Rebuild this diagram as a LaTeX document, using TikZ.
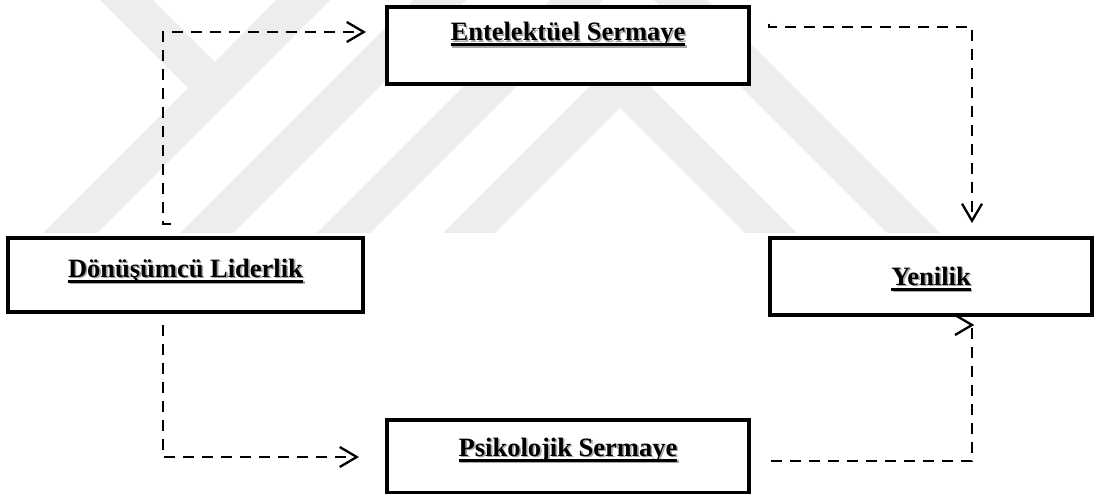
\documentclass[tikz,border=0pt]{standalone}
\usepackage{fontspec}
\setmainfont{Liberation Serif}
\usetikzlibrary{arrows.meta}

% bold label with a soft drop shadow and a heavy underline
\newcommand\boxlabel[1]{%
  \setbox0\hbox{#1}%
  \rlap{\kern1.6pt\raisebox{-1.6pt}{\color{black!35}\copy0}}%
  \rlap{\kern1.6pt\raisebox{-1.6pt}{\color{black!35}\rule[-5.5pt]{\wd0}{3pt}}}%
  \rlap{\rule[-5.5pt]{\wd0}{3pt}}%
  \box0}

\begin{document}
\begin{tikzpicture}[x=1pt,y=-1pt,
  wmark/.style={fill=black!7, draw=none},
  varbox/.style={draw, line width=3.2pt, fill=white, inner sep=0pt,
    text height=18pt, text depth=#1,
    font=\fontsize{26.5pt}{30pt}\selectfont\bfseries},
  flow/.style={line width=2.5pt, dash pattern=on 11pt off 8pt,
    -{Straight Barb[length=17pt,width=20pt,line width=2.3pt]}},
  flowline/.style={line width=2.5pt, dash pattern=on 11pt off 8pt},
  barb/.style={line width=2.3pt}
]
\useasboundingbox (0,0) rectangle (1094,494);

% background emblem
\fill[wmark] (100,0) -- (153,0) -- (215,62) -- (276,0) -- (330,0)
  -- (97,233) -- (43,233) -- (188,88) -- cycle;
\fill[wmark] (180,233) -- (233,233) -- (466,0) -- (413,0) -- cycle;
\fill[wmark] (317,233) -- (370,233) -- (603,0) -- (550,0) -- cycle;
\fill[wmark] (443,233) -- (620,56) -- (797,233) -- (745,233)
  -- (620,108) -- (495,233) -- cycle;
\fill[wmark] (654,0) -- (707,0) -- (940,233) -- (887,233) -- cycle;

% boxes
\node[varbox=27pt, minimum width=362pt, minimum height=77pt] (es)
  at (568,45.5) {\boxlabel{Entelektüel Sermaye}};
\node[varbox=14pt, minimum width=355pt, minimum height=74pt] (dl)
  at (185.5,275) {\boxlabel{Dönüşümcü Liderlik}};
\node[varbox=1pt, minimum width=322pt, minimum height=77pt] (yn)
  at (931,276.5) {\boxlabel{Yenilik}};
\node[varbox=19pt, minimum width=362pt, minimum height=73pt] (ps)
  at (568,456.5) {\boxlabel{Psikolojik Sermaye}};

% elbow connector end points
\coordinate (dlUp0) at (171,224);
\coordinate (dlUp1) at (163,224);
\coordinate (dlUp2) at (163,32);
\coordinate (esIn)  at (366,32);

\coordinate (esOut0) at (769,24);
\coordinate (esOut1) at (769,27);
\coordinate (esOut2) at (972,27);
\coordinate (ynTop)  at (972,223);

\coordinate (dlDn0) at (163,325);
\coordinate (dlDn1) at (163,457);
\coordinate (psIn)  at (359,457);

\coordinate (psOut0) at (771,461);
\coordinate (psOut1) at (972,461);
\coordinate (ynBot)  at (972,325);

% connectors
\draw[flow] (dlUp0) -- (dlUp1) -- (dlUp2) -- (esIn);
\draw[flow] (esOut0) -- (esOut1) -- (esOut2) -- (ynTop);
\draw[flow] (dlDn0) -- (dlDn1) -- (psIn);
\draw[flowline] (psOut0) -- (psOut1) -- (ynBot);
\draw[barb] ([shift={(-17,-10)}]ynBot) -- (ynBot) -- ([shift={(-17,10)}]ynBot);
\end{tikzpicture}
\end{document}
